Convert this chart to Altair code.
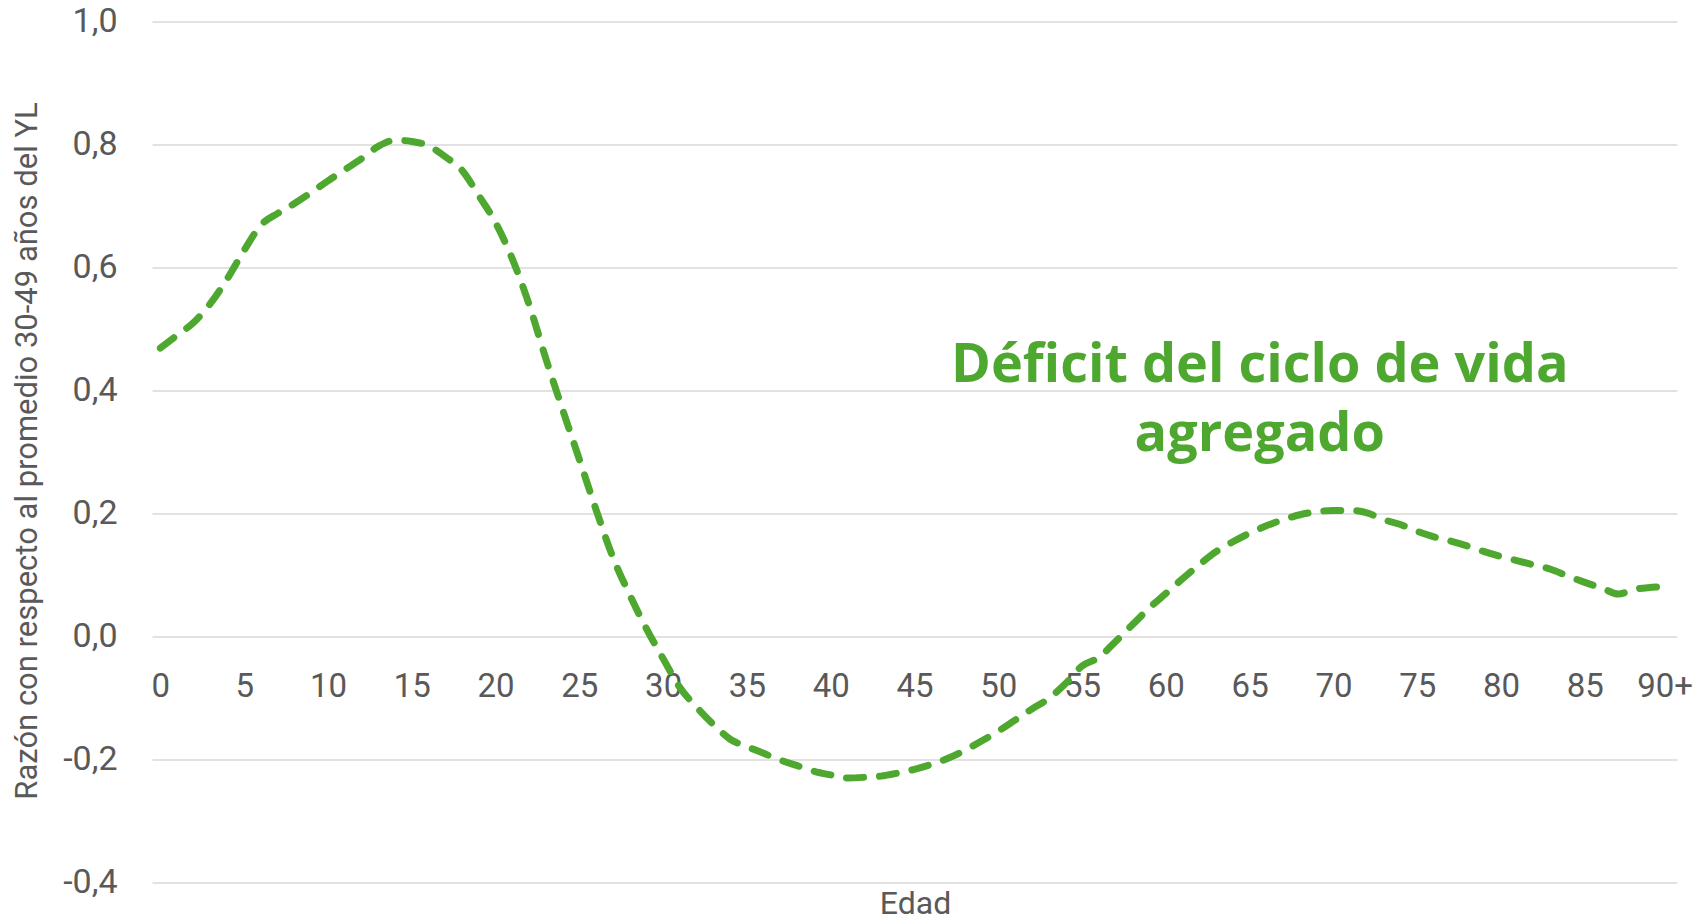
import altair as alt
import pandas as pd

GREEN = "#4EA72E"
GREY = "#595959"

edades = list(range(91))
valores = [
    0.469, 0.490, 0.511, 0.542, 0.582, 0.628, 0.669, 0.688, 0.704, 0.722,
    0.741, 0.759, 0.777, 0.797, 0.807, 0.805, 0.798, 0.780, 0.758, 0.717,
    0.673, 0.614, 0.540, 0.452, 0.369, 0.288, 0.206, 0.129, 0.068, 0.013,
    -0.036, -0.083, -0.115, -0.143, -0.167, -0.179, -0.190, -0.201, -0.210, -0.219,
    -0.225, -0.230, -0.229, -0.227, -0.222, -0.216, -0.208, -0.198, -0.185, -0.170,
    -0.154, -0.136, -0.118, -0.101, -0.077, -0.048, -0.034, -0.008, 0.019, 0.046,
    0.070, 0.094, 0.117, 0.138, 0.154, 0.168, 0.180, 0.190, 0.198, 0.203,
    0.205, 0.205, 0.201, 0.190, 0.182, 0.171, 0.162, 0.155, 0.147, 0.138,
    0.130, 0.123, 0.116, 0.109, 0.098, 0.088, 0.079, 0.069, 0.077, 0.080,
    0.082,
]
ticks_x = list(range(0, 91, 5))
ticks_y = [-0.4, -0.2, 0.0, 0.2, 0.4, 0.6, 0.8, 1.0]
titulo_x = "Edad"
titulo_y = "Razón con respecto al promedio 30-49 años del YL"
anotacion = ["Déficit del ciclo de vida", "agregado"]
anot_edad = [65.6]
anot_valor = [0.414]

df = pd.DataFrame({"edad": edades, "valor": valores})
df_anot = pd.DataFrame({"edad": anot_edad, "valor": anot_valor})

x_scale = alt.Scale(domain=[-0.5, 90.5], nice=False, zero=False)
y_scale = alt.Scale(domain=[-0.4, 1.0], nice=False, zero=False)

x_axis = alt.Axis(
    values=ticks_x,
    labelExpr="datum.value == 90 ? '90+' : datum.label",
    grid=False, ticks=False, domain=False,
    offset=-245.5, labelPadding=33, labelFontSize=33, labelFont="Roboto",
    labelColor=GREY, labelFlush=False, labelOverlap=False, labelBaseline="top",
    labelOffset={"condition": {"test": "datum.value == 90", "value": -4}, "value": 0},
    title=titulo_x, titleFont="Roboto", titleFontSize=32, titleFontWeight="normal",
    titleColor=GREY, titleX=763, titleY=276, titleBaseline="alphabetic",
    titleAlign="center",
)
y_axis = alt.Axis(
    values=ticks_y,
    labelExpr="(datum.value < -0.0001 ? '-' : '') + replace(format(abs(datum.value), '.1f'), '.', ',')",
    grid=True, gridColor="#D9D9D9", gridWidth=1.5,
    ticks=False, domain=False, labelPadding=35, labelFontSize=34, labelFont="Roboto",
    labelColor=GREY,
    title=titulo_y, titleFont="Roboto", titleFontSize=31, titleFontWeight="normal",
    titleColor=GREY, titleX=-125, titleY=429, titleAngle=270,
    titleBaseline="middle", titleAlign="center",
)

line = alt.Chart(df).mark_line(
    color=GREEN, strokeWidth=7, strokeDash=[17, 16], strokeCap="round",
    interpolate="monotone",
).encode(
    x=alt.X("edad:Q", scale=x_scale, axis=x_axis),
    y=alt.Y("valor:Q", scale=y_scale, axis=y_axis),
)

texto = alt.Chart(df_anot).mark_text(
    text=anotacion, font="Open Sans", fontSize=54, fontWeight="bold",
    color=GREEN, align="center", baseline="alphabetic", lineHeight=69,
).encode(
    x=alt.X("edad:Q", scale=x_scale, axis=x_axis),
    y=alt.Y("valor:Q", scale=y_scale, axis=y_axis),
)

chart = alt.layer(line, texto).properties(
    width=1525, height=861,
    autosize="none",
    padding={"left": 144, "top": 13.5, "right": 17, "bottom": 35.5},
    background="white",
).configure_view(stroke=None)

chart.save("out.html", embed_options={"renderer": "svg", "actions": False})
